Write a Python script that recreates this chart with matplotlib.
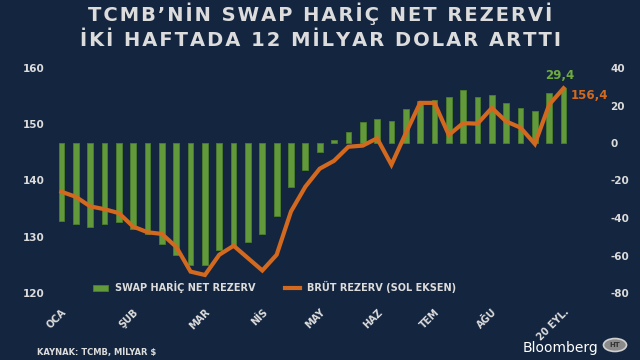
import numpy as np
import matplotlib
matplotlib.use("Agg")
import matplotlib.pyplot as plt
from matplotlib.patches import Circle

plt.rcParams["axes.unicode_minus"] = False

# swap haric net rezerv (sag eksen, milyar $), haftalik
net_rezerv = [-41.5, -43.3, -44.6, -43.3, -41.9, -45.8, -48.7, -53.7, -59.7, -65.1,
              -65.1, -57.0, -55.4, -52.6, -48.7, -38.7, -23.4, -14.4, -5.0, 1.6,
              6.0, 11.4, 12.7, 11.6, 18.2, 22.6, 23.0, 24.4, 28.5, 24.8,
              25.8, 21.4, 18.6, 17.3, 26.6, 29.4]
# brut rezerv (sol eksen)
brut_rezerv = [138.0, 137.1, 135.4, 134.9, 134.2, 131.8, 130.8, 130.5, 128.2, 123.8,
               123.2, 126.8, 128.4, 126.2, 124.0, 126.8, 134.5, 138.9, 142.1, 143.5,
               146.0, 146.2, 147.5, 142.8, 148.4, 153.8, 153.8, 148.1, 150.2, 150.1,
               152.9, 150.5, 149.4, 146.5, 153.5, 156.4]
ay_idx = [0, 5, 10, 14, 18, 22, 26, 30, 35]
ay_etiket = ["OCA", "ŞUB", "MAR", "NİS", "MAY", "HAZ", "TEM", "AĞU", "20 EYL."]

bg = "#14253f"
fg = "#dcdcdc"
green = "#62993a"
orange = "#d2691e"

def aralikli(s):
    # harfler arasina ince bosluk (baslik daha genis gorunsun)
    return "\u200a".join(s)

fig = plt.figure(figsize=(6.4, 3.6), dpi=100)
fig.patch.set_facecolor(bg)
ax = fig.add_axes([50/640, 1-293/360, 548/640, 225/360])
ax.set_facecolor(bg)
x = np.arange(len(net_rezerv))

ax.bar(x, net_rezerv, width=0.4, color=green, edgecolor="#4c7f2c", linewidth=0.6,
       label="SWAP HARİÇ NET REZERV")
ax.set_ylim(-80, 40)
ax.set_xlim(-0.8, 37.4)

ax2 = ax.twinx()
ax2.plot(x, brut_rezerv, color=orange, lw=3.0, solid_joinstyle="miter",
         label="BRÜT REZERV (SOL EKSEN)")
ax2.set_ylim(120, 160)

ax.yaxis.tick_right()
ax2.yaxis.tick_left()
ax.set_yticks(range(-80, 41, 20))
ax2.set_yticks(range(120, 161, 10))

for a in (ax, ax2):
    for s in a.spines.values():
        s.set_visible(False)
    a.tick_params(axis="y", length=0, colors=fg, labelsize=7.5)
    for t in a.get_yticklabels():
        t.set_fontweight("bold")
ax.tick_params(axis="y", pad=9)
ax2.tick_params(axis="y", pad=4)

ax.set_xticks(ay_idx)
ax.set_xticklabels(ay_etiket, rotation=45, ha="right", rotation_mode="anchor",
                   fontsize=7, fontweight="bold", color=fg)
ax.tick_params(axis="x", length=0, pad=10)

# etiketler
ax.text(x[-1] - 0.3, net_rezerv[-1] + 3, "29,4", color="#6faa40", fontsize=8.5,
        fontweight="bold", ha="center", va="bottom")
ax2.text(x[-1] + 0.5, brut_rezerv[-1] - 1.3, "156,4", color=orange, fontsize=8.5,
         fontweight="bold", ha="left", va="center")

h1, l1 = ax.get_legend_handles_labels()
h2, l2 = ax2.get_legend_handles_labels()
leg = ax2.legend(h1 + h2, l1 + l2, loc="lower center", bbox_to_anchor=(0.41, -0.04),
                 ncol=2, frameon=False, fontsize=7, columnspacing=3.0,
                 handlelength=1.5, handleheight=0.5)
for t in leg.get_texts():
    t.set_color(fg)
    t.set_fontweight("bold")

fig.text(0.5, 1-14/360, aralikli("TCMB’NİN SWAP HARİÇ NET REZERVİ"), ha="center",
         va="center", color=fg, fontsize=14, fontweight="bold")
fig.text(0.5, 1-40/360, aralikli("İKİ HAFTADA 12 MİLYAR DOLAR ARTTI"), ha="center",
         va="center", color=fg, fontsize=14, fontweight="bold")
fig.text(37/640, 1-352/360, "KAYNAK: TCMB, MİLYAR $", ha="left", va="center",
         color=fg, fontsize=6, fontweight="bold")
fig.text(598/640, 1-348/360, "Bloomberg", ha="right", va="center",
         color="white", fontsize=10)
logo = Circle((615/640, 1-345/360), 0.018, transform=fig.transFigure,
              facecolor="#8a8a8a", edgecolor="#d0d0d0", lw=1.2)
fig.patches.append(logo)
fig.text(615/640, 1-345/360, "HT", ha="center", va="center", color="#333333",
         fontsize=5, fontweight="bold")

fig.savefig("out.png", dpi=100, facecolor=bg)
